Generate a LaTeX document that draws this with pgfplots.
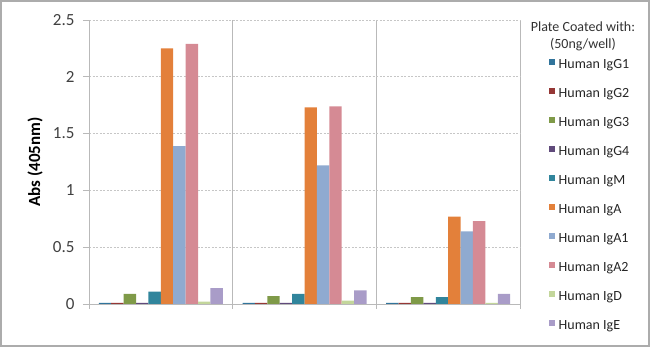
\documentclass[border=0pt]{standalone}
\usepackage{fontspec}
\setmainfont{Carlito}
\usepackage{pgfplots}
\pgfplotsset{compat=1.18}
\definecolor{cG1}{HTML}{31749B}
\definecolor{cG2}{HTML}{953735}
\definecolor{cG3}{HTML}{7F9A48}
\definecolor{cG4}{HTML}{604A7B}
\definecolor{cM}{HTML}{31859C}
\definecolor{cA}{HTML}{E3803A}
\definecolor{cA1}{HTML}{8FAAD0}
\definecolor{cA2}{HTML}{D58A94}
\definecolor{cD}{HTML}{C3D69B}
\definecolor{cE}{HTML}{A99CC8}
\begin{document}
\begin{tikzpicture}[x=1pt,y=1pt]
\path[use as bounding box] (0,0) rectangle (650,347);
\begin{axis}[
  at={(89pt,43pt)}, anchor=south west,
  scale only axis, width=431pt, height=284pt,
  ymin=0, ymax=2.5, xmin=-0.5, xmax=2.5,
  ybar=0pt, bar width=12.4pt,
  ytick={0,0.5,1,1.5,2,2.5},
  xtick={0,1,2}, xticklabels={200ng/mL,50ng/mL,10ng/mL},
  minor xtick={-0.5,0.5,1.5,2.5},
  xmajorticks=false,
  ytick pos=left,
  tick align=outside,
  major tick length=6pt, minor tick length=5pt,
  axis x line*=bottom, axis y line*=left,
  axis line style={-, draw=gray!55, line width=0.8pt},
  every tick/.style={draw=gray!55, line width=0.8pt},
  ymajorgrids, xminorgrids,
  major grid style={draw=gray!45, dash pattern=on 2pt off 1.5pt, line width=0.8pt},
  minor grid style={draw=gray!55, line width=0.8pt},
  /pgf/number format/assume math mode=true,
  tick label style={font=\fontsize{17}{20}\selectfont, text=black!75},
  xticklabel style={yshift=-5pt},
  yticklabel style={xshift=-5pt},
  ylabel={\textbf{Abs (405nm)}},
  ylabel style={at={(axis description cs:-0.1253,0.5)}, anchor=center, font=\fontsize{17}{20}\selectfont},
  legend style={at={(axis description cs:1.0603,0.381)}, anchor=west, draw=none, fill=none,
    row sep=16pt, column sep=4pt,
    nodes={inner sep=0pt, text height=10pt, text depth=3pt, font=\fontsize{14}{16}\selectfont, text=black!85}},
  legend cell align=left,
  legend image code/.code={\fill[#1] (0pt,0.5pt) rectangle (5.5pt,6pt);},
]
\addplot[fill=cG1, draw=none] coordinates {(0,0.01) (1,0.01) (2,0.01)};
\addlegendentry{Human IgG1}
\addplot[fill=cG2, draw=none] coordinates {(0,0.01) (1,0.01) (2,0.01)};
\addlegendentry{Human IgG2}
\addplot[fill=cG3, draw=none] coordinates {(0,0.09) (1,0.07) (2,0.06)};
\addlegendentry{Human IgG3}
\addplot[fill=cG4, draw=none] coordinates {(0,0.01) (1,0.01) (2,0.01)};
\addlegendentry{Human IgG4}
\addplot[fill=cM, draw=none] coordinates {(0,0.11) (1,0.09) (2,0.06)};
\addlegendentry{Human IgM}
\addplot[fill=cA, draw=none] coordinates {(0,2.25) (1,1.73) (2,0.77)};
\addlegendentry{Human IgA}
\addplot[fill=cA1, draw=none] coordinates {(0,1.39) (1,1.22) (2,0.64)};
\addlegendentry{Human IgA1}
\addplot[fill=cA2, draw=none] coordinates {(0,2.29) (1,1.74) (2,0.73)};
\addlegendentry{Human IgA2}
\addplot[fill=cD, draw=none] coordinates {(0,0.02) (1,0.03) (2,0.01)};
\addlegendentry{Human IgD}
\addplot[fill=cE, draw=none] coordinates {(0,0.14) (1,0.12) (2,0.09)};
\addlegendentry{Human IgE}
\end{axis}
\node[font=\fontsize{14}{16}\selectfont, text=black!80] at (583,320) {Plate Coated with:};
\node[font=\fontsize{14}{16}\selectfont, text=black!80] at (583,302) {(50ng/well)};
\draw[gray!65, line width=2pt] (1,1) rectangle (649,346);
\end{tikzpicture}
\end{document}
